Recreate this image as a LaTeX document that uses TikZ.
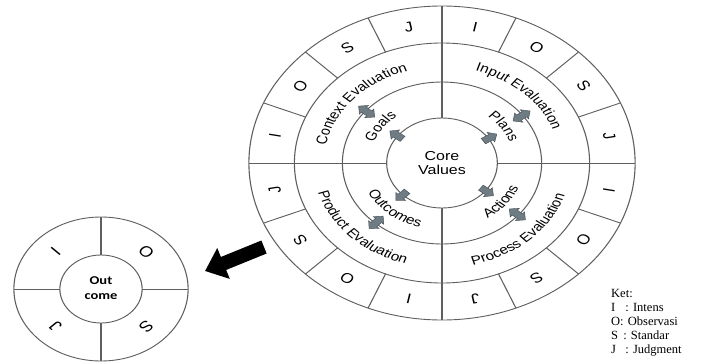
\documentclass[tikz,border=0pt]{standalone}
\usepackage{fontspec}
\setmainfont{Liberation Serif}
\setsansfont{Liberation Sans}
\newfontfamily\outfont{Carlito}
\usepackage{xcolor}
\definecolor{ringgrey}{RGB}{95,95,95}
\definecolor{arrgrey}{RGB}{112,124,132}
\definecolor{arrline}{RGB}{70,80,88}
\usepackage{tikz}
\usetikzlibrary{shapes.arrows,arrows.meta,decorations.text}
\tikzset{
  ring/.style={draw=ringgrey, line width=0.9pt},
  lett/.style={font=\sffamily\fontsize{14}{14}\selectfont, inner sep=0pt},
  arctext/.style={decorate, decoration={text along path, text align=center,
    text={|\sffamily\fontsize{12.5}{12.5}\selectfont|#1}}},
  corearrow/.style={single arrow, draw=arrline, fill=arrgrey, line width=0.4pt,
    minimum height=13pt, inner xsep=0pt, inner ysep=3pt, single arrow head extend=2.5pt},
  midarrow/.style={double arrow, draw=arrline, fill=arrgrey, line width=0.4pt,
    minimum height=17pt, inner xsep=0pt, inner ysep=3pt, double arrow head extend=2.5pt},
  bigarrow/.style={line width=14pt, -{Triangle[length=20pt,width=32pt]}},
  ket/.style={font=\fontsize{12.5}{14}\selectfont, inner sep=0pt}
}

\begin{document}
\begin{tikzpicture}[x=1pt, y=1pt]
  \useasboundingbox (0,0) rectangle (707,-364);

  % the big wheel, drawn round and stretched sideways
  \begin{scope}[transform canvas={shift={(442pt,-163pt)}, xscale=1.23}]
    \foreach \r in {45,81,120,157}
      \draw[ring] (0,0) circle[radius=\r];
    \foreach \a in {0,22.5,...,337.5}
      \draw[ring] (\a:120) -- (\a:157);
    \foreach \a in {0,90,180,270}
      \draw[ring] (\a:45) -- (\a:157);
    \foreach \s [count=\q] in {180,90,0,-90}
      \foreach \l [count=\k] in {I,O,S,J}
        \node[lett, rotate={\s-22.5*\k+11.25-90}] (let\q\l) at ({\s-22.5*\k+11.25}:138.5) {\l};

    \path[arctext={Context Evaluation}] (188:96) arc[start angle=188, end angle=88, radius=96];
    \path[arctext={Input Evaluation}] (97:96) arc[start angle=97, end angle=-3, radius=96];
    \path[arctext={Process Evaluation}] (-97:105) arc[start angle=-97, end angle=3, radius=105];
    \path[arctext={Product Evaluation}] (-185:105) arc[start angle=-185, end angle=-85, radius=105];
    \path[arctext={Goals}] (194:59) arc[start angle=194, end angle=94, radius=59];
    \path[arctext={Plans}] (86:59) arc[start angle=86, end angle=-14, radius=59];
    \path[arctext={Actions}] (-89:67) arc[start angle=-89, end angle=11, radius=67];
    \path[arctext={Outcomes}] (-180:67) arc[start angle=-180, end angle=-80, radius=67];

    \foreach \a [count=\i] in {143,33,-38,-135}
      \node[corearrow, rotate=\a] (core\i) at (\a:45) {};
    \foreach \a [count=\i] in {140,36,-40,-132}
      \node[midarrow, rotate=\a] (mid\i) at (\a:80) {};

    \node[align=center, font=\sffamily\fontsize{13}{14}\selectfont] (core) at (0,0) {Core\\Values};
  \end{scope}

  % the small wheel
  \begin{scope}[transform canvas={shift={(101pt,-289pt)}, xscale=1.21}]
    \draw[ring] (0,0) circle[radius=34];
    \draw[ring] (0,0) circle[radius=72];
    \foreach \a in {0,90,180,270}
      \draw[ring] (\a:34) -- (\a:72);
    \foreach \l/\a in {I/135,O/45,S/-45,J/-135}
      \node[lett, font=\sffamily\fontsize{15}{15}\selectfont, rotate=\a-90] (out\l) at (\a:53) {\l};
    \node[align=center, font=\outfont\bfseries\fontsize{12}{15}\selectfont] (outcome) at (0,1) {Out\\come};
  \end{scope}

  \coordinate (arrtail) at (264,-247);
  \coordinate (arrtip) at (205,-271);
  \draw[bigarrow] (arrtail) -- (arrtip);

  \node[ket, anchor=north west] (legend) at (611,-287) {%
    \begin{tabular}{@{}l@{}l@{}}
      \multicolumn{2}{@{}l}{Ket:}\\
      I & \ \,: Intens\\
      O & : Observasi\\
      S & \ : Standar\\
      J & \ \,: Judgment
    \end{tabular}};
\end{tikzpicture}
\end{document}
